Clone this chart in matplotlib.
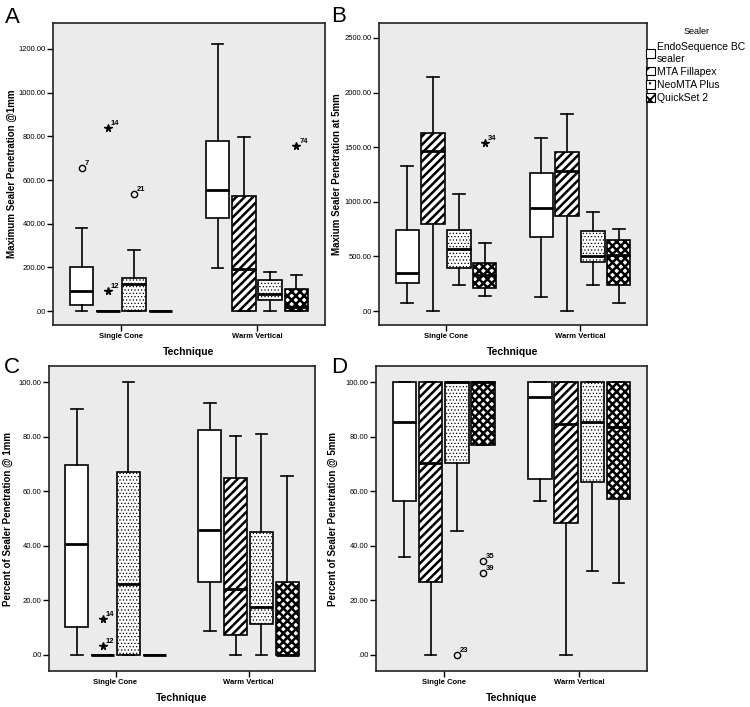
import matplotlib
matplotlib.use("Agg")
import matplotlib.pyplot as plt
from matplotlib.patches import Patch

plt.rcParams['font.family'] = ['Liberation Sans', 'DejaVu Sans']

techniques = ['Single Cone', 'Warm Vertical']
sealers = ['EndoSequence BC\nsealer', 'MTA Fillapex', 'NeoMTA Plus', 'QuickSet 2']
hatches = ['', '////', '.....', 'xxxx']
hatch_lw = [1.0, 1.8, 0.5, 1.8]

# five-number summaries per sealer: [whislo, q1, median, q3, whishi]
a_single = [[0, 29, 90, 202, 382], [0, 0, 0, 0, 0], [0, 0, 125, 153, 281], [0, 0, 0, 0, 0]]
a_warm = [[199, 428, 555, 780, 1224], [0, 0, 194, 529, 795], [0, 52, 80, 144, 177], [0, 2, 18, 101, 164]]
b_single = [[70, 256, 351, 739, 1325], [0, 800, 1465, 1633, 2143], [235, 397, 565, 739, 1074], [134, 214, 327, 443, 626]]
b_warm = [[125, 681, 946, 1267, 1584], [0, 870, 1279, 1459, 1801], [241, 452, 501, 736, 904], [73, 235, 510, 650, 754]]
c_single = [[0, 10.1, 40.8, 69.6, 90.1], [0, 0, 0, 0, 0], [0, 0, 25.9, 66.9, 100], [0, 0, 0, 0, 0]]
c_warm = [[8.9, 26.7, 45.8, 82.5, 92.5], [0, 7.3, 24.1, 64.8, 80.4], [0, 11.4, 17.6, 44.9, 81], [0, 0, 0, 26.7, 65.6]]
d_single = [[35.8, 56.4, 85.5, 100, 100], [0, 26.9, 70.2, 100, 100], [45.5, 70.5, 100, 100, 100], [76.9, 76.9, 100, 100, 100]]
d_warm = [[56.5, 64.3, 94.4, 100, 100], [0, 48.5, 84.5, 100, 100], [30.6, 63.2, 85.2, 100, 100], [26.3, 57, 83.7, 100, 100]]

# outliers: (technique index, sealer index, value, case label, marker)
a_out = [(0, 0, 656, '7', 'o'), (0, 1, 839, '14', '*'), (0, 1, 92, '12', '*'),
         (0, 2, 537, '21', 'o'), (1, 3, 758, '74', '*')]
b_out = [(0, 3, 1538, '34', '*')]
c_out = [(0, 1, 13.3, '14', '*'), (0, 1, 3.3, '12', '*')]
d_out = [(0, 3, 34.6, '35', 'o'), (0, 3, 30.2, '39', 'o'), (0, 2, 0, '23', 'o')]

offsets = [-0.29, -0.097, 0.097, 0.29]

W, H = 750, 707
fig = plt.figure(figsize=(7.5, 7.07), dpi=100)


def fmt(v):
    s = '%.2f' % v
    return s[1:] if s.startswith('0') else s


def hatch_width(artist, lw):
    # hatch line width is global in matplotlib, so set it around each draw
    if hasattr(artist, 'set_hatch_linewidth'):
        artist.set_hatch_linewidth(lw)
    orig = artist.draw

    def draw(renderer):
        with plt.rc_context({'hatch.linewidth': lw}):
            orig(renderer)
    artist.draw = draw


def panel(rect, single, warm, outliers, ylim, yticks, ylabel, labx):
    ax = fig.add_axes(rect)
    ax.set_facecolor('#ebebeb')
    for i in range(4):
        stats = []
        for summ in (single[i], warm[i]):
            lo, q1, med, q3, hi = summ
            stats.append(dict(whislo=lo, q1=q1, med=med, q3=q3, whishi=hi, fliers=[]))
        bp = ax.bxp(stats, positions=[0 + offsets[i], 1 + offsets[i]], widths=0.172,
                    capwidths=0.085, patch_artist=True, manage_ticks=False,
                    boxprops=dict(facecolor='white', edgecolor='black', linewidth=1.2),
                    medianprops=dict(color='black', linewidth=2.0),
                    whiskerprops=dict(color='black', linewidth=1.2),
                    capprops=dict(color='black', linewidth=1.2))
        for b in bp['boxes']:
            b.set_hatch(hatches[i])
            hatch_width(b, hatch_lw[i])
    for t, s, v, lab, m in outliers:
        x = t + offsets[s]
        if m == 'o':
            ax.plot(x, v, marker='o', ms=4.5, mfc='none', mec='black', mew=1.0, ls='none')
        else:
            ax.plot(x, v, marker='*', ms=5.5, color='black', ls='none')
        ax.annotate(lab, (x, v), xytext=(2, 2), textcoords='offset points',
                    fontsize=5.5, fontweight='bold')
    ax.set_xlim(-0.5, 1.5)
    ax.set_ylim(*ylim)
    ax.set_xticks([0, 1])
    ax.set_xticklabels(techniques, fontsize=5.5, fontweight='bold')
    ax.set_yticks(yticks)
    ax.set_yticklabels([fmt(v) for v in yticks], fontsize=5.5)
    ax.tick_params(length=4, width=1, pad=1.5)
    for sp in ax.spines.values():
        sp.set_linewidth(1.2)
        sp.set_color('#222222')
    ax.set_xlabel('Technique', fontsize=7.5, fontweight='bold', labelpad=5)
    ax.set_ylabel(ylabel, fontsize=7, fontweight='bold')
    ax.yaxis.label.set_verticalalignment('center')
    ax.yaxis.set_label_coords(labx, 0.5)
    return ax


panel([53 / W, 1 - 325 / H, 272 / W, 302 / H], a_single, a_warm, a_out,
      (-64, 1319), list(range(0, 1201, 200)), 'Maximum Sealer Penetration @1mm', -0.15)
panel([379 / W, 1 - 325 / H, 268 / W, 302 / H], b_single, b_warm, b_out,
      (-128, 2637), list(range(0, 2501, 500)), 'Maxium Sealer Penetration at 5mm', -0.155)
panel([49 / W, 1 - 671 / H, 266 / W, 305 / H], c_single, c_warm, c_out,
      (-5.9, 105.9), list(range(0, 101, 20)), 'Percent of Sealer Penetration @ 1mm', -0.154)
panel([376 / W, 1 - 671 / H, 271 / W, 305 / H], d_single, d_warm, d_out,
      (-5.9, 105.9), list(range(0, 101, 20)), 'Percent of Sealer Penetration @ 5mm', -0.159)

for letter, px, py in [('A', 5, 23), ('B', 331, 22), ('C', 4, 373), ('D', 331, 373)]:
    fig.text(px / W, 1 - py / H, letter, fontsize=16, ha='left', va='baseline')

handles = [Patch(facecolor='white', edgecolor='black', hatch=hatches[i][:2], linewidth=0.8)
           for i in range(4)]
fig.text(697 / W, 1 - 32 / H, 'Sealer', fontsize=6.5, ha='center', va='center')
leg = fig.legend(handles, sealers, loc='upper left', bbox_to_anchor=(646 / W, 1 - 42 / H),
                 frameon=False, fontsize=7.5,
                 handlelength=0.9, handleheight=0.9, handletextpad=0.15,
                 labelspacing=0.3, borderpad=0, borderaxespad=0)
for i, p in enumerate(leg.get_patches()):
    hatch_width(p, [1.0, 1.4, 0.5, 1.4][i])

fig.savefig('out.png', dpi=100)
